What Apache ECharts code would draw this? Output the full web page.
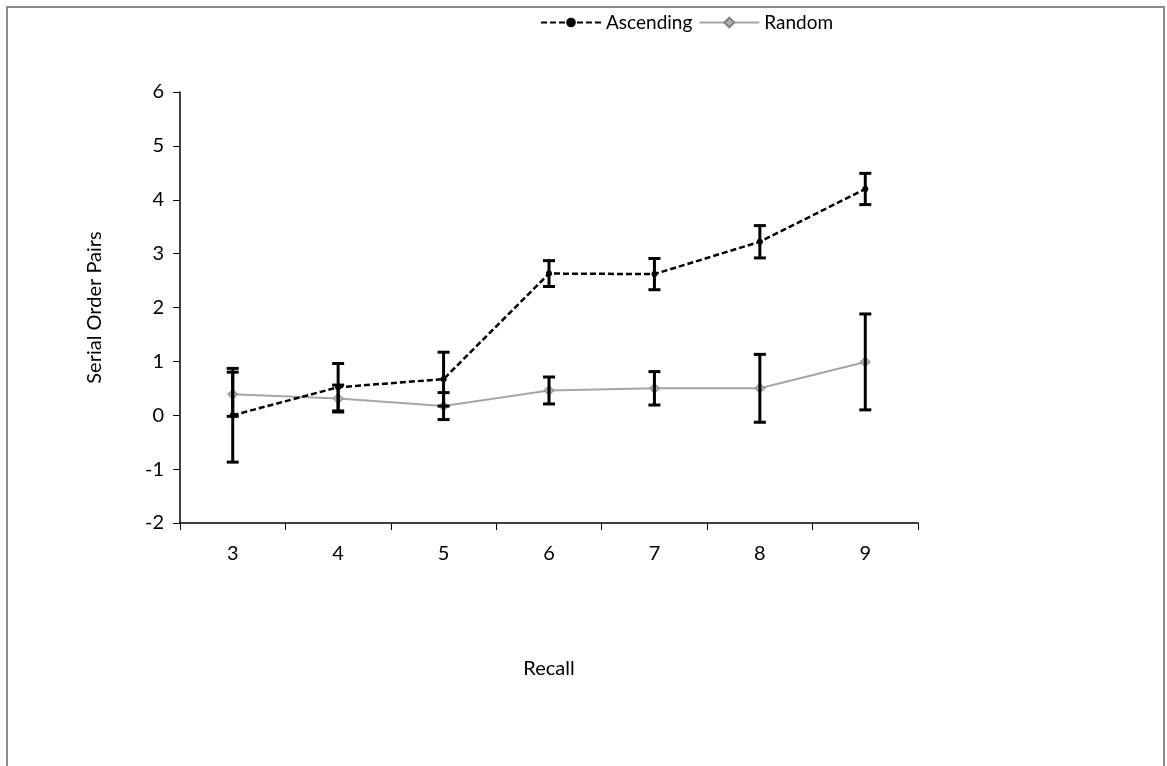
<!DOCTYPE html>
<html>
<head>
<meta charset="utf-8">
<script src="https://cdn.jsdelivr.net/npm/echarts@6/dist/echarts.min.js"></script>
<style>
html,body{margin:0;padding:0;background:#fff;}
#chart{width:1167px;height:766px;}
</style>
</head>
<body>
<div id="chart"></div>
<script>
var categories = ['3', '4', '5', '6', '7', '8', '9'];
var ascending = [0.0, 0.52, 0.67, 2.63, 2.62, 3.22, 4.2];
var ascendingErr = [0.87, 0.44, 0.5, 0.24, 0.29, 0.3, 0.29];
var random = [0.39, 0.31, 0.17, 0.46, 0.5, 0.5, 0.99];
var randomErr = [0.41, 0.25, 0.25, 0.25, 0.31, 0.63, 0.89];
var yTicks = [-2, -1, 0, 1, 2, 3, 4, 5, 6];

function errData(vals, errs) {
  return vals.map(function (v, i) { return [i, v - errs[i], v + errs[i]]; });
}

function errRender(params, api) {
  var x = api.value(0);
  var lo = api.coord([x, api.value(1)]);
  var hi = api.coord([x, api.value(2)]);
  var hw = 6;
  var st = { stroke: '#000', lineWidth: 3 };
  return {
    type: 'group',
    children: [
      { type: 'line', shape: { x1: lo[0], y1: lo[1], x2: hi[0], y2: hi[1] }, style: st },
      { type: 'line', shape: { x1: lo[0] - hw, y1: lo[1], x2: lo[0] + hw, y2: lo[1] }, style: st },
      { type: 'line', shape: { x1: hi[0] - hw, y1: hi[1], x2: hi[0] + hw, y2: hi[1] }, style: st }
    ]
  };
}

var font = 'Lato, "Open Sans", sans-serif';
var chart = echarts.init(document.getElementById('chart'), null, { renderer: 'canvas' });
chart.setOption({
  backgroundColor: '#fff',
  animation: false,
  textStyle: { fontFamily: font },
  graphic: [{
    type: 'rect', shape: { x: 7, y: 7, width: 1157, height: 780 },
    style: { fill: 'none', stroke: '#8a8a8a', lineWidth: 2 }, silent: true, z: -1
  }],
  legend: {
    top: 8, left: 535,
    itemWidth: 60, itemHeight: 12, itemGap: 6,
    textStyle: { fontFamily: font, fontSize: 19, color: '#000' },
    data: ['Ascending', 'Random']
  },
  grid: { left: 180, right: 249, top: 92, bottom: 243, containLabel: false },
  xAxis: {
    type: 'category', data: categories, boundaryGap: true,
    name: 'Recall', nameLocation: 'middle', nameGap: 136,
    nameTextStyle: { fontFamily: font, fontSize: 20, color: '#000' },
    axisLine: { onZero: false, lineStyle: { color: '#000', width: 1.5 } },
    axisTick: { show: true, alignWithLabel: false, length: 7, lineStyle: { color: '#000' } },
    axisLabel: { fontFamily: font, fontSize: 20, color: '#000', margin: 21 },
    splitLine: { show: false }
  },
  yAxis: {
    type: 'value', min: -2, max: 6, interval: 1,
    name: 'Serial Order Pairs', nameLocation: 'middle', nameGap: 75,
    nameTextStyle: { fontFamily: font, fontSize: 20, color: '#000' },
    axisLine: { show: true, lineStyle: { color: '#000', width: 1.5 } },
    axisTick: { show: true, length: 7, lineStyle: { color: '#000' } },
    axisLabel: { fontFamily: font, fontSize: 20, color: '#000', margin: 16,
      formatter: function (v) { return yTicks.indexOf(v) >= 0 ? String(v) : ''; } },
    splitLine: { show: false }
  },
  series: [
    {
      name: 'Ascending', type: 'line', data: ascending, z: 3,
      symbol: 'circle', symbolSize: 6,
      lineStyle: { color: '#000', width: 2.5, type: [6, 3] },
      itemStyle: { color: '#000' }
    },
    {
      name: 'Random', type: 'line', data: random, z: 2,
      symbol: 'diamond', symbolSize: 10,
      lineStyle: { color: '#a6a6a6', width: 2 },
      itemStyle: { color: '#b0b0b0', borderColor: '#808080', borderWidth: 1 }
    },
    {
      name: 'AscErr', type: 'custom', renderItem: errRender, z: 4,
      data: errData(ascending, ascendingErr), encode: { x: 0, y: [1, 2] }, silent: true
    },
    {
      name: 'RndErr', type: 'custom', renderItem: errRender, z: 4,
      data: errData(random, randomErr), encode: { x: 0, y: [1, 2] }, silent: true
    }
  ]
});
</script>
</body>
</html>
